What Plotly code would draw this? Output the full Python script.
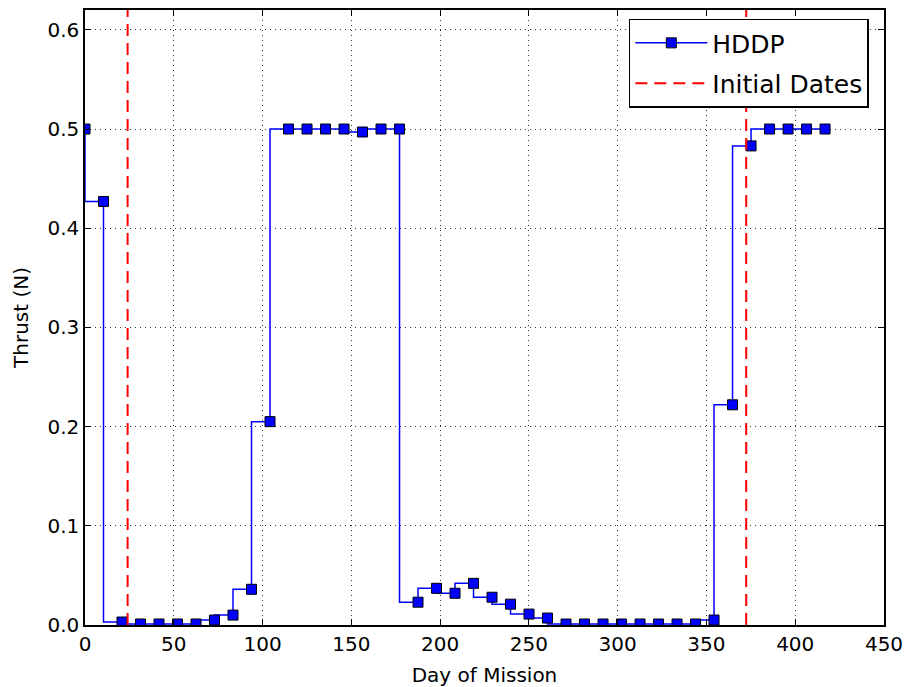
import plotly.graph_objects as go

# Thrust profile sampled every ~10.42 days over the mission
day_step = 416.8 / 40
days = [round(i * day_step, 2) for i in range(41)]
thrust = [
    0.500, 0.427, 0.003, 0.001, 0.001, 0.001, 0.001, 0.005, 0.010, 0.036,
    0.205, 0.500, 0.500, 0.500, 0.500, 0.497, 0.500, 0.500, 0.023, 0.037,
    0.032, 0.042, 0.028, 0.021, 0.011, 0.007, 0.001, 0.001, 0.001, 0.001,
    0.001, 0.001, 0.001, 0.001, 0.005, 0.222, 0.483, 0.500, 0.500, 0.500,
    0.500,
]
initial_dates = [24, 372.4]

x_ticks = [0, 50, 100, 150, 200, 250, 300, 350, 400, 450]
y_ticks = [0.0, 0.1, 0.2, 0.3, 0.4, 0.5, 0.6]

FONT = "DejaVu Sans"

fig = go.Figure()

fig.add_trace(go.Scatter(
    x=days, y=thrust, name="HDDP", mode="lines+markers",
    legendgroup="hddp",
    line=dict(color="#0000ff", width=1.5, shape="vh"),
    marker=dict(symbol="square", size=10, color="#0000ff",
                line=dict(color="#000000", width=1)),
))

for k, d in enumerate(initial_dates):
    fig.add_trace(go.Scatter(
        x=[d, d], y=[0, 0.62], name="Initial Dates", mode="lines",
        legendgroup="dates",
        line=dict(color="#ff0000", width=2, dash="12px,7px"),
        showlegend=(k == 0),
    ))

axis_common = dict(
    showline=True, linecolor="#000000", linewidth=1.5, mirror="ticks",
    ticks="inside", ticklen=6, tickcolor="#000000", tickwidth=1,
    showgrid=True, gridcolor="#333333", griddash="1px,4px", gridwidth=1,
    zeroline=False, automargin=False,
    tickfont=dict(family=FONT, size=20, color="#000000"),
)

fig.update_xaxes(
    range=[0, 450], tickvals=x_ticks, ticktext=[str(v) for v in x_ticks],
    title=dict(text="Day of Mission", standoff=13,
               font=dict(family=FONT, size=20, color="#000000")),
    **axis_common,
)
fig.update_yaxes(
    range=[0, 0.62], tickvals=y_ticks, ticktext=[f"{v:.1f}" for v in y_ticks],
    title=dict(text="Thrust (N)", standoff=13,
               font=dict(family=FONT, size=20, color="#000000")),
    **axis_common,
)

fig.update_layout(
    width=907, height=687,
    margin=dict(l=85, r=23, t=10, b=62),
    paper_bgcolor="#ffffff", plot_bgcolor="#ffffff",
    font=dict(family=FONT, color="#000000"),
    legend=dict(
        x=0.981, y=0.986, xanchor="right", yanchor="top",
        bgcolor="#ffffff", bordercolor="#000000", borderwidth=1.5,
        font=dict(family=FONT, size=25, color="#000000"),
        itemwidth=72, tracegroupgap=5,
    ),
)

fig.write_html("out.html")
